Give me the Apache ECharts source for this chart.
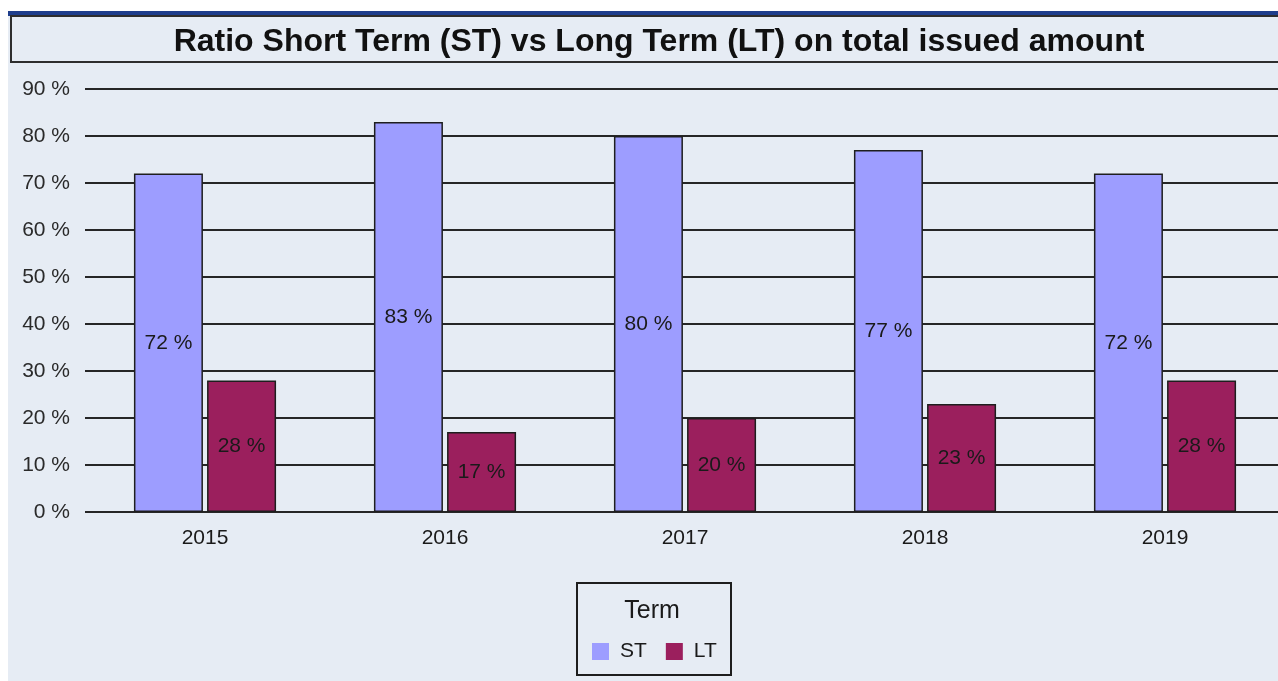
<!DOCTYPE html>
<html>
<head>
<meta charset="utf-8">
<script src="https://cdn.jsdelivr.net/npm/echarts@6/dist/echarts.min.js"></script>
<style>
  html, body { margin: 0; padding: 0; background: #ffffff; overflow: hidden; }
  #chart { width: 1300px; height: 681px; }
</style>
</head>
<body>
<div id="chart"></div>
<script>
// Issue years and share of each term in the total issued amount (percent)
const years = ['2015', '2016', '2017', '2018', '2019'];
const shortTerm = [72, 83, 80, 77, 72];
const longTerm = [28, 17, 20, 23, 28];
const yTicks = { min: 0, max: 90, interval: 10 };

const FONT = '"Liberation Sans", Arial, sans-serif';
const chart = echarts.init(document.getElementById('chart'), null, { renderer: 'canvas' });

chart.setOption({
  backgroundColor: '#ffffff',
  animation: false,
  graphic: [
    // panel background
    { type: 'rect', z: -10, shape: { x: 8, y: 11, width: 1300, height: 670 },
      style: { fill: '#e6ecf4' }, silent: true },
    // top accent strip
    { type: 'rect', z: -5, shape: { x: 8, y: 11, width: 1300, height: 5 },
      style: { fill: '#1f3e8c' }, silent: true },
    // title frame
    { type: 'rect', z: -4, shape: { x: 11, y: 16, width: 1300, height: 46 },
      style: { fill: 'none', stroke: '#2e2e2e', lineWidth: 2 }, silent: true },
    // legend frame
    { type: 'rect', z: -4, shape: { x: 577, y: 583, width: 154, height: 92 },
      style: { fill: 'none', stroke: '#1e1e1e', lineWidth: 2 }, silent: true },
    { type: 'text', x: 652, y: 611,
      style: { text: 'Term', font: '25px ' + FONT, fill: '#1a1a1a',
               textAlign: 'center', textVerticalAlign: 'middle' } }
  ],
  title: {
    text: 'Ratio Short Term (ST) vs Long Term (LT) on total issued amount',
    left: 654, top: 21, textAlign: 'center',
    textStyle: { fontFamily: FONT, fontSize: 32, fontWeight: 'bold', color: '#111111' }
  },
  legend: {
    left: 587, top: 636,
    itemWidth: 17, itemHeight: 17, itemGap: 19,
    icon: 'rect',
    itemStyle: { borderWidth: 0 },
    textStyle: { fontFamily: FONT, fontSize: 21, color: '#1a1a1a', padding: [0, 0, 0, 6] },
    data: ['ST', 'LT']
  },
  grid: { left: 85, top: 89, width: 1200, height: 423, containLabel: false },
  xAxis: {
    type: 'category',
    data: years,
    axisLine: { show: false },
    axisTick: { show: false },
    axisLabel: { fontFamily: FONT, fontSize: 21, color: '#1a1a1a', margin: 16 }
  },
  yAxis: {
    type: 'value',
    min: yTicks.min, max: yTicks.max, interval: yTicks.interval,
    axisLine: { show: false },
    axisTick: { show: false },
    axisLabel: { fontFamily: FONT, fontSize: 21, color: '#2a2a2a', margin: 15,
                 formatter: '{value} %' },
    splitLine: { lineStyle: { color: '#262626', width: 2 } }
  },
  series: [
    {
      name: 'ST', type: 'bar', data: shortTerm,
      barWidth: 69, barGap: '6%',
      itemStyle: { color: '#9d9dff', borderColor: '#1e1e1e', borderWidth: 1.5 },
      label: { show: true, position: 'inside', formatter: '{c} %',
               fontFamily: FONT, fontSize: 21, color: '#1a1a1a' }
    },
    {
      name: 'LT', type: 'bar', data: longTerm,
      barWidth: 69,
      itemStyle: { color: '#9b1f5d', borderColor: '#1e1e1e', borderWidth: 1.5 },
      label: { show: true, position: 'inside', formatter: '{c} %',
               fontFamily: FONT, fontSize: 21, color: '#1a1a1a' }
    }
  ]
});
</script>
</body>
</html>
